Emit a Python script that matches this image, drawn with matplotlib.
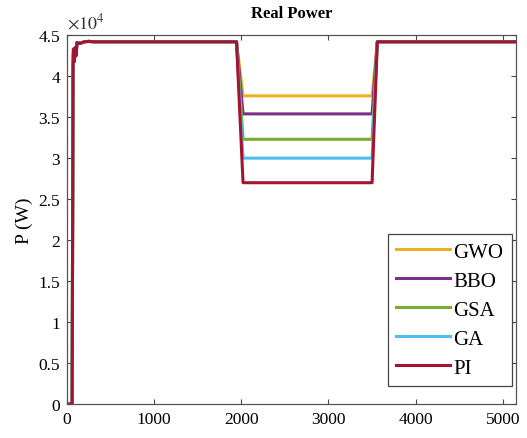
import matplotlib.pyplot as plt
from matplotlib.ticker import FuncFormatter

plt.rcParams['font.family'] = ['Liberation Serif', 'DejaVu Serif']
plt.rcParams['mathtext.fontset'] = 'stix'

# time axis breakpoints (shared by all controllers)
t = [0, 55, 60, 70, 75, 85, 95, 105, 115, 150, 200, 250, 300, 1945, 2020, 3500, 3560, 5150]

# start-up transient and steady level (W)
startup = [0, 0, 0, 41000, 43300, 41800, 43500, 42500, 44100, 44000, 44200, 44250, 44200]
p_full = 44200

labels = ['GWO', 'BBO', 'GSA', 'GA', 'PI']
dip_levels = [37600, 35400, 32300, 30000, 27000]
colors = ['#EDB120', '#7E2F8E', '#77AC30', '#4DBEEE', '#A2142F']

fig = plt.figure(figsize=(5.27, 4.39), dpi=100)
ax = fig.add_axes([0.127, 0.0775, 0.852, 0.84])

for name, lvl, c in zip(labels, dip_levels, colors):
    p = startup + [p_full, lvl, lvl, p_full, p_full]
    ax.plot(t, p, color=c, lw=2.2, label=name)

ax.set_xlim(0, 5150)
ax.set_ylim(0, 45000)
ax.set_xticks([0, 1000, 2000, 3000, 4000, 5000])
ax.set_yticks([i * 5000 for i in range(10)])
ax.yaxis.set_major_formatter(FuncFormatter(lambda v, pos: '%g' % (v / 1e4)))
ax.tick_params(direction='in', top=True, right=True, length=3.5, labelsize=12.5,
               color='#444444', pad=5)
for s in ax.spines.values():
    s.set_color('#555555')
    s.set_linewidth(0.9)

ax.text(0.0, 1.008, r'$\times10^{4}$', transform=ax.transAxes, fontsize=13,
        ha='left', va='bottom', color='#333333')
ax.set_title('Real Power', fontsize=12, fontweight='bold', pad=13)
ax.set_ylabel('P (W)', fontsize=14, labelpad=4)

leg = ax.legend(loc='lower right', bbox_to_anchor=(0.991, 0.049), borderaxespad=0,
                fontsize=15, handlelength=2.6, handletextpad=0.15, labelspacing=0.45,
                borderpad=0.4, fancybox=False, framealpha=1, edgecolor='#444444')
leg.get_frame().set_linewidth(0.9)

fig.savefig('out.png', dpi=100)
